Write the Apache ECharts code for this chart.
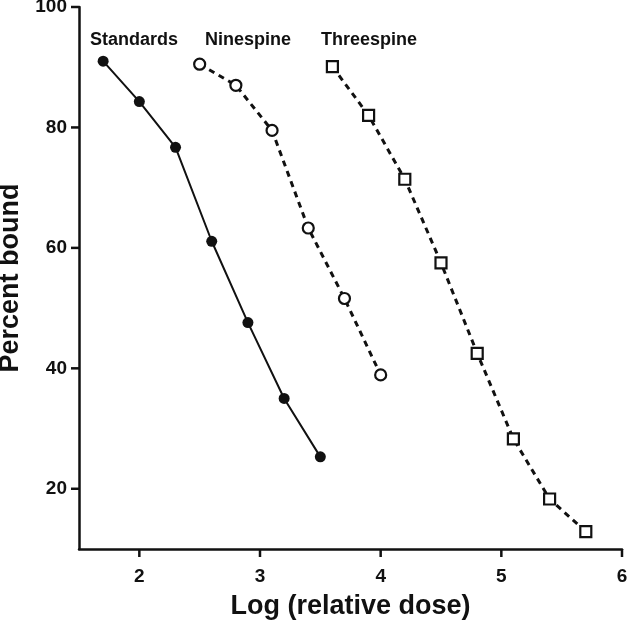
<!DOCTYPE html>
<html><head><meta charset="utf-8">
<script src="https://cdn.jsdelivr.net/npm/echarts@6/dist/echarts.min.js"></script>
<style>html,body{margin:0;padding:0;background:#fff}#c{width:627px;height:625px}</style>
</head><body><div id="c"></div>
<script>
const standardsX = [1.7, 2.0, 2.3, 2.6, 2.9, 3.2, 3.5];
const standardsY = [91.0, 84.3, 76.7, 61.1, 47.6, 35.0, 25.3];
const ninespineX = [2.5, 2.8, 3.1, 3.4, 3.7, 4.0];
const ninespineY = [90.5, 87.0, 79.5, 63.3, 51.6, 38.9];
const threespineX = [3.6, 3.9, 4.2, 4.5, 4.8, 5.1, 5.4, 5.7];
const threespineY = [90.1, 82.0, 71.4, 57.5, 42.5, 28.3, 18.3, 12.9];
const seriesNames = ['Standards', 'Ninespine', 'Threespine'];
const xTicks = [2, 3, 4, 5, 6];
const yTicks = [20, 40, 60, 80, 100];
const xMin = 1.5, xMax = 6, yMin = 10, yMax = 100;

const zip = (a, b) => a.map((v, i) => [v, b[i]]);
const font = '"Liberation Sans", Arial, sans-serif';
const isTick = (list, v) => list.some(t => Math.abs(t - v) < 1e-6);
const tickLen = 8;

const chart = echarts.init(document.getElementById('c'), null, {renderer: 'canvas'});
chart.setOption({
  animation: false,
  backgroundColor: '#fff',
  grid: {left: 79, right: 5, top: 7, bottom: 76, outerBoundsMode: 'none'},
  xAxis: {
    type: 'value', min: xMin, max: xMax, splitNumber: 5,
    name: 'Log (relative dose)', nameLocation: 'middle', nameGap: 44,
    nameTextStyle: {fontFamily: font, fontWeight: 'bold', fontSize: 27, color: '#111'},
    axisLine: {show: true, onZero: false, lineStyle: {color: '#111', width: 2.5}},
    axisTick: {show: false},
    axisLabel: {fontFamily: font, fontWeight: 'bold', fontSize: 19, color: '#111', margin: 18,
      showMinLabel: false, formatter: v => isTick(xTicks, v) ? String(v) : ''},
    splitLine: {show: false}
  },
  yAxis: {
    type: 'value', min: yMin, max: yMax, splitNumber: 5,
    name: 'Percent bound', nameLocation: 'middle', nameGap: 48,
    nameTextStyle: {fontFamily: font, fontWeight: 'bold', fontSize: 27, color: '#111'},
    axisLine: {show: true, onZero: false, lineStyle: {color: '#111', width: 2.5}},
    axisTick: {show: false},
    axisLabel: {fontFamily: font, fontWeight: 'bold', fontSize: 19, color: '#111', margin: 12,
      showMinLabel: false, formatter: v => isTick(yTicks, v) ? String(v) : ''},
    splitLine: {show: false}
  },
  series: [
    {type: 'scatter', silent: true, clip: false, z: 1,
      data: xTicks.map(v => [v, yMin]),
      symbol: 'rect', symbolSize: [2.5, tickLen], symbolOffset: [0, tickLen / 2],
      itemStyle: {color: '#111', opacity: 1}},
    {type: 'scatter', silent: true, clip: false, z: 1,
      data: yTicks.map(v => [xMin, v]),
      symbol: 'rect', symbolSize: [tickLen, 2.5], symbolOffset: [-tickLen / 2, 0],
      itemStyle: {color: '#111', opacity: 1}},
    {name: seriesNames[0], type: 'line', data: zip(standardsX, standardsY),
      symbol: 'circle', symbolSize: 11, lineStyle: {color: '#111', width: 2},
      itemStyle: {color: '#111', borderColor: '#111', borderWidth: 0}},
    {name: seriesNames[1], type: 'line', data: zip(ninespineX, ninespineY),
      symbol: 'circle', symbolSize: 11, lineStyle: {color: '#111', width: 3, type: [6, 5]},
      itemStyle: {color: '#fff', borderColor: '#111', borderWidth: 2.2}},
    {name: seriesNames[2], type: 'line', data: zip(threespineX, threespineY),
      symbol: 'rect', symbolSize: 11, lineStyle: {color: '#111', width: 3, type: [6, 5]},
      itemStyle: {color: '#fff', borderColor: '#111', borderWidth: 2.2}}
  ],
  graphic: [
    {type: 'text', left: 90, top: 31, style: {text: seriesNames[0], font: 'bold 18px ' + font, fill: '#111'}},
    {type: 'text', left: 205, top: 31, style: {text: seriesNames[1], font: 'bold 18px ' + font, fill: '#111'}},
    {type: 'text', left: 321, top: 31, style: {text: seriesNames[2], font: 'bold 18px ' + font, fill: '#111'}}
  ]
});
</script></body></html>
